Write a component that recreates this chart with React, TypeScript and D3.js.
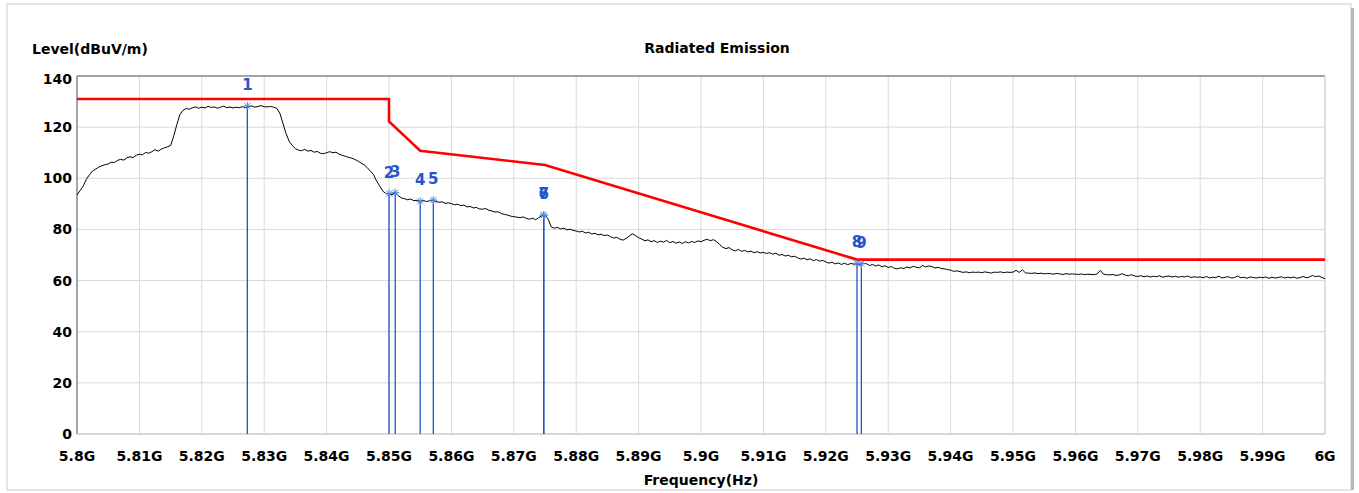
import React from 'react';
import * as d3 from 'd3';

// Sweep grid of the measured trace
const F_START = 5.8;
const F_STEP = 0.0005;

// Measured level (dBuV/m), one value per 0.5 MHz, rows of 10 MHz
const traceLevels: number[] = [
  93.5, 95.2, 97.0, 99.6, 101.4, 102.9, 103.6, 104.4, 104.9, 105.3, 105.6, 106.3, 106.2, 107.0, 107.4, 107.1, 108.0, 108.4, 108.1, 109.0,
  109.4, 109.2, 110.1, 109.8, 110.4, 111.2, 110.6, 111.4, 111.9, 112.3, 112.8, 116.5, 121.0, 125.0, 126.6, 127.3, 127.0, 127.6, 127.9, 127.4,
  127.8, 127.5, 128.1, 127.7, 127.9, 127.4, 127.8, 128.2, 127.6, 127.9, 127.5, 127.8, 127.6, 128.0, 127.7, 127.9, 128.3, 127.8, 128.1, 128.4,
  128.0, 127.9, 128.1, 127.8, 127.4, 125.5, 121.5, 117.5, 114.5, 112.8, 111.6, 111.0, 110.8, 111.3, 110.6, 110.9, 110.2, 110.5, 109.8, 109.6,
  110.0, 110.4, 110.0, 110.2, 109.4, 109.0, 108.6, 108.2, 107.9, 107.4, 106.8, 106.0, 105.3, 104.2, 102.8, 101.5, 99.0, 97.0, 95.0, 94.0,
  94.0, 93.6, 94.4, 93.2, 92.3, 92.0, 91.6, 91.9, 91.2, 91.4, 91.0, 91.3, 90.9, 91.2, 91.5, 91.0, 90.6, 90.8, 90.2, 90.4,
  90.1, 89.6, 89.9, 89.3, 89.5, 88.8, 89.0, 88.4, 88.6, 88.0, 87.9, 88.2, 87.5, 87.2, 86.8, 86.9, 86.2, 85.9, 85.6, 85.2,
  85.0, 84.8, 84.6, 84.9, 84.3, 84.0, 84.4, 83.8, 84.6, 85.4, 85.6, 84.0, 81.0, 80.5, 80.8, 80.2, 80.5, 79.8, 80.1, 79.6,
  79.4, 79.0, 79.3, 78.6, 78.9, 78.2, 78.5, 77.9, 78.1, 77.6, 77.8, 77.2, 76.6, 76.9, 76.2, 75.8, 76.5, 77.4, 78.3, 77.6,
  76.8, 76.2, 75.6, 75.9, 75.2, 75.6, 74.9, 75.4, 75.0, 75.7, 74.8, 75.3, 74.6, 75.1, 74.5, 75.2, 74.7, 75.3, 74.9, 75.5,
  75.2, 75.8, 76.1, 75.6, 76.0, 75.2, 74.1, 73.0, 72.5, 72.9, 72.0, 71.6, 72.2, 71.4, 71.8, 71.2, 71.5, 70.9, 71.3, 70.8,
  71.0, 70.6, 70.9, 70.3, 70.7, 69.9, 70.2, 69.6, 69.9, 69.3, 69.5, 68.9, 68.4, 68.8, 68.1, 68.5, 67.8, 68.2, 67.6, 67.9,
  67.3, 66.8, 67.2, 66.5, 66.9, 66.3, 66.8, 66.2, 66.7, 66.4, 66.6, 66.1, 66.7, 66.6, 65.9, 66.3, 65.7, 66.1, 65.4, 65.8,
  65.1, 65.5, 64.8, 64.6, 65.0, 64.7, 65.3, 64.9, 65.6, 65.2, 65.0, 65.9, 65.3, 65.7, 65.5, 64.9, 65.2, 64.7, 64.6, 64.3,
  64.1, 63.6, 63.8, 63.5, 63.2, 63.4, 63.1, 63.3, 63.2, 63.3, 63.1, 63.4, 63.2, 62.9, 63.3, 63.2, 63.4, 63.1, 63.3, 63.2,
  63.3, 64.0, 63.2, 64.2, 63.0, 62.9, 62.8, 63.0, 62.7, 62.9, 62.6, 62.8, 62.7, 62.5, 62.8, 62.6, 62.4, 62.7, 62.5, 62.6,
  62.5, 62.4, 62.6, 62.3, 62.5, 62.4, 62.3, 62.6, 64.0, 62.5, 62.3, 62.2, 62.4, 62.0, 62.2, 62.7, 62.1, 61.9, 62.3, 61.8,
  61.6, 61.9, 61.5, 61.8, 61.4, 61.7, 61.5, 61.9, 61.3, 61.6, 61.8, 61.4, 61.7, 61.3, 61.6, 61.4, 61.8, 61.2, 61.5, 61.3,
  61.4, 61.1, 61.6, 61.0, 61.3, 61.2, 61.7, 61.0, 61.3, 61.5, 61.0, 61.2, 61.8, 61.1, 61.3, 60.9, 61.4, 61.2, 61.0, 61.3,
  61.1, 61.4, 60.9, 61.3, 61.0, 61.2, 61.5, 61.0, 61.3, 61.1, 61.4, 60.9, 61.2, 61.6, 61.1, 61.4, 62.0, 61.5, 61.8, 61.2,
  60.7,
];

// Limit line
const limitFreqs = [5.8, 5.85, 5.85, 5.855, 5.875, 5.925, 6.0];
const limitLevels = [131.0, 131.0, 122.2, 110.8, 105.2, 68.2, 68.2];

// Markers
const markerIds = ['1', '2', '3', '4', '5', '6', '7', '8', '9'];
const markerFreqs = [5.8273, 5.85, 5.851, 5.855, 5.8571, 5.8748, 5.8748, 5.925, 5.9257];
const markerLevels = [128.3, 94.0, 94.4, 91.0, 91.5, 85.6, 85.6, 66.8, 66.6];

// Axes
const xTickValues = [5.8, 5.81, 5.82, 5.83, 5.84, 5.85, 5.86, 5.87, 5.88, 5.89, 5.9, 5.91, 5.92, 5.93, 5.94, 5.95, 5.96, 5.97, 5.98, 5.99, 6.0];
const xTickLabels = ['5.8G', '5.81G', '5.82G', '5.83G', '5.84G', '5.85G', '5.86G', '5.87G', '5.88G', '5.89G', '5.9G', '5.91G', '5.92G', '5.93G', '5.94G', '5.95G', '5.96G', '5.97G', '5.98G', '5.99G', '6G'];
const yTickValues = [0, 20, 40, 60, 80, 100, 120, 140];

const W = 1359;
const H = 493;
const M = { left: 77, right: 1325, top: 76, bottom: 434 };
const FONT = '"DejaVu Sans", Verdana, sans-serif';

export default function App() {
  const x = d3.scaleLinear().domain([5.8, 6.0]).range([M.left, M.right]);
  const y = d3.scaleLinear().domain([0, 140]).range([M.bottom, M.top]);

  const trace = traceLevels.map((v, i) => [F_START + i * F_STEP, v] as [number, number]);
  const line = d3.line<[number, number]>().x(d => x(d[0])).y(d => y(d[1]));
  const limit = limitFreqs.map((f, i) => [f, limitLevels[i]] as [number, number]);

  const markerColor = '#1f55c4';

  return (
    <svg width={W} height={H} style={{ position: 'fixed', left: 0, top: 0, background: '#fff' }}>
      {/* outer panel */}
      <rect x={7} y={4} width={1344} height={486} fill="#ffffff" stroke="#dcdcdc" strokeWidth={1.5} />
      <line x1={1352.5} y1={8} x2={1352.5} y2={490} stroke="#b8b8b8" strokeWidth={3} />

      {/* grid */}
      {xTickValues.map((t, i) => (
        <line key={'gx' + i} x1={x(t)} x2={x(t)} y1={M.top} y2={M.bottom} stroke="#d9d9d9" strokeWidth={1} />
      ))}
      {yTickValues.map((t, i) => (
        <line key={'gy' + i} x1={M.left} x2={M.right} y1={y(t)} y2={y(t)} stroke="#d9d9d9" strokeWidth={1} />
      ))}

      {/* frame */}
      <line x1={M.left} x2={M.right} y1={M.top} y2={M.top} stroke="#8c8c8c" strokeWidth={1.5} />
      <line x1={M.left} x2={M.left} y1={M.top} y2={M.bottom} stroke="#8c8c8c" strokeWidth={1.5} />
      <line x1={M.left} x2={M.right} y1={M.bottom} y2={M.bottom} stroke="#c4c4c4" strokeWidth={1} />
      <line x1={M.right} x2={M.right} y1={M.top} y2={M.bottom} stroke="#d4d4d4" strokeWidth={1} />

      {/* marker vertical lines */}
      {markerFreqs.map((f, i) => (
        <line key={'ml' + i} x1={x(f)} x2={x(f)} y1={y(markerLevels[i])} y2={M.bottom} stroke={markerColor} strokeWidth={1.3} />
      ))}

      {/* limit */}
      <path d={line(limit) || ''} fill="none" stroke="#ff0000" strokeWidth={2.6} />

      {/* trace */}
      <path d={line(trace) || ''} fill="none" stroke="#000" strokeWidth={1} strokeLinejoin="round" />

      {/* marker asterisks and labels */}
      {markerFreqs.map((f, i) => {
        const cx = x(f);
        const cy = y(markerLevels[i]);
        const r = 4;
        return (
          <g key={'mk' + i}>
            <g stroke="#4f86e8" strokeWidth={1}>
              <line x1={cx - r} x2={cx + r} y1={cy} y2={cy} />
              <line x1={cx} x2={cx} y1={cy - r} y2={cy + r} />
              <line x1={cx - r * 0.75} x2={cx + r * 0.75} y1={cy - r * 0.75} y2={cy + r * 0.75} />
              <line x1={cx - r * 0.75} x2={cx + r * 0.75} y1={cy + r * 0.75} y2={cy - r * 0.75} />
            </g>
            <text x={cx} y={cy - 16} textAnchor="middle" fontFamily={FONT} fontWeight="bold" fontSize={15} fill="#2456cc">
              {markerIds[i]}
            </text>
          </g>
        );
      })}

      {/* y tick labels */}
      {yTickValues.map((t, i) => (
        <text key={'yl' + i} x={72} y={y(t) + (t === 140 ? 8 : 5)} textAnchor="end" fontFamily={FONT} fontWeight="bold" fontSize={14} fill="#000">
          {t}
        </text>
      ))}

      {/* x tick labels */}
      {xTickValues.map((t, i) => (
        <text key={'xl' + i} x={x(t)} y={461} textAnchor="middle" fontFamily={FONT} fontWeight="bold" fontSize={14} fill="#000">
          {xTickLabels[i]}
        </text>
      ))}

      {/* titles */}
      <text x={32} y={54} fontFamily={FONT} fontWeight="bold" fontSize={14} fill="#000">Level(dBuV/m)</text>
      <text x={717} y={53} textAnchor="middle" fontFamily={FONT} fontWeight="bold" fontSize={14} fill="#000">Radiated Emission</text>
      <text x={701} y={485} textAnchor="middle" fontFamily={FONT} fontWeight="bold" fontSize={14} fill="#000">Frequency(Hz)</text>
    </svg>
  );
}
